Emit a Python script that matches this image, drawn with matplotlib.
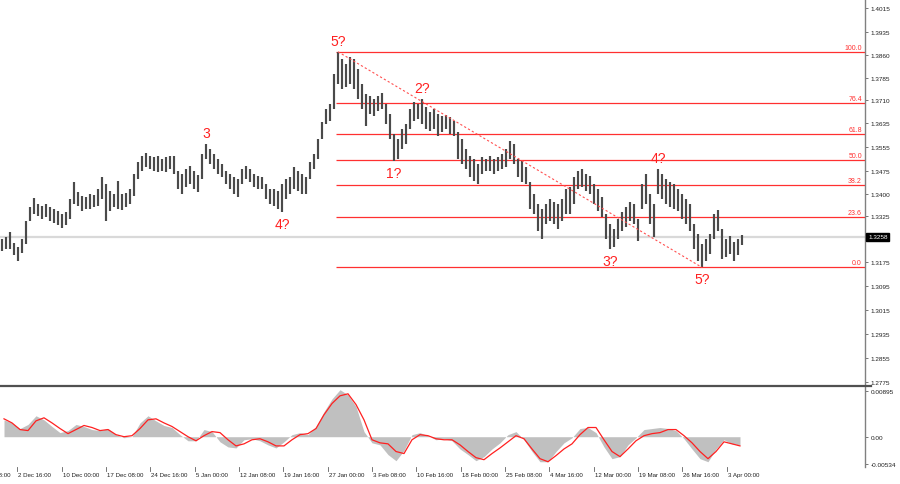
import matplotlib
matplotlib.use("Agg")
import matplotlib.pyplot as plt
from matplotlib.lines import Line2D
from matplotlib.transforms import blended_transform_factory

# ---------------- data ----------------
highs = [1.3250, 1.3257, 1.3273, 1.3237, 1.3224, 1.3250, 1.3310, 1.3356, 1.3386, 1.3366,
         1.3360, 1.3366, 1.3356, 1.3350, 1.3343, 1.3333, 1.3340, 1.3383, 1.3439, 1.3406,
         1.3393, 1.3389, 1.3399, 1.3396, 1.3416, 1.3456, 1.3433, 1.3409, 1.3399, 1.3442,
         1.3399, 1.3403, 1.3416, 1.3466, 1.3505, 1.3525, 1.3535, 1.3525, 1.3522, 1.3525,
         1.3515, 1.3522, 1.3525, 1.3525, 1.3476, 1.3466, 1.3482, 1.3492, 1.3476, 1.3462,
         1.3532, 1.3565, 1.3549, 1.3532, 1.3515, 1.3499, 1.3476, 1.3466, 1.3456, 1.3449,
         1.3482, 1.3492, 1.3482, 1.3466, 1.3459, 1.3456, 1.3433, 1.3416, 1.3416, 1.3409,
         1.3433, 1.3449, 1.3456, 1.3489, 1.3476, 1.3466, 1.3456, 1.3505, 1.3532, 1.3582,
         1.3638, 1.3681, 1.3698, 1.3797, 1.3871, 1.3847, 1.3830, 1.3854, 1.3847, 1.3814,
         1.3764, 1.3731, 1.3724, 1.3714, 1.3724, 1.3734, 1.3698, 1.3665, 1.3598, 1.3582,
         1.3615, 1.3631, 1.3681, 1.3704, 1.3698, 1.3714, 1.3688, 1.3671, 1.3681, 1.3665,
         1.3658, 1.3661, 1.3655, 1.3641, 1.3605, 1.3582, 1.3549, 1.3525, 1.3515, 1.3499,
         1.3522, 1.3515, 1.3525, 1.3515, 1.3522, 1.3532, 1.3549, 1.3575, 1.3565, 1.3515,
         1.3509, 1.3489, 1.3439, 1.3399, 1.3366, 1.3350, 1.3366, 1.3383, 1.3373, 1.3366,
         1.3383, 1.3416, 1.3423, 1.3456, 1.3476, 1.3482, 1.3466, 1.3459, 1.3433, 1.3416,
         1.3389, 1.3333, 1.3300, 1.3283, 1.3316, 1.3340, 1.3356, 1.3373, 1.3366, 1.3316,
         1.3433, 1.3466, 1.3399, 1.3366, 1.3482, 1.3466, 1.3449, 1.3439, 1.3433, 1.3416,
         1.3399, 1.3383, 1.3366, 1.3300, 1.3267, 1.3234, 1.3250, 1.3267, 1.3333, 1.3346,
         1.3283, 1.3250, 1.3260, 1.3240, 1.3250, 1.3263]
lows = [1.3210, 1.3217, 1.3217, 1.3197, 1.3177, 1.3204, 1.3234, 1.3310, 1.3333, 1.3326,
        1.3316, 1.3323, 1.3310, 1.3303, 1.3297, 1.3287, 1.3297, 1.3316, 1.3366, 1.3360,
        1.3343, 1.3350, 1.3350, 1.3356, 1.3360, 1.3383, 1.3310, 1.3343, 1.3356, 1.3350,
        1.3346, 1.3356, 1.3366, 1.3393, 1.3449, 1.3476, 1.3489, 1.3482, 1.3476, 1.3472,
        1.3476, 1.3472, 1.3482, 1.3466, 1.3416, 1.3399, 1.3423, 1.3433, 1.3416, 1.3406,
        1.3449, 1.3515, 1.3499, 1.3482, 1.3466, 1.3456, 1.3433, 1.3416, 1.3399, 1.3389,
        1.3433, 1.3449, 1.3439, 1.3423, 1.3416, 1.3416, 1.3383, 1.3366, 1.3360, 1.3350,
        1.3340, 1.3383, 1.3399, 1.3416, 1.3409, 1.3399, 1.3399, 1.3449, 1.3482, 1.3515,
        1.3582, 1.3631, 1.3641, 1.3681, 1.3764, 1.3748, 1.3754, 1.3764, 1.3748, 1.3714,
        1.3681, 1.3625, 1.3665, 1.3658, 1.3675, 1.3681, 1.3631, 1.3582, 1.3509, 1.3515,
        1.3549, 1.3565, 1.3615, 1.3641, 1.3648, 1.3631, 1.3615, 1.3608, 1.3615, 1.3592,
        1.3605, 1.3615, 1.3598, 1.3592, 1.3515, 1.3499, 1.3482, 1.3456, 1.3442, 1.3433,
        1.3466, 1.3476, 1.3476, 1.3466, 1.3476, 1.3482, 1.3489, 1.3515, 1.3499, 1.3456,
        1.3439, 1.3433, 1.3350, 1.3333, 1.3277, 1.3250, 1.3300, 1.3310, 1.3300, 1.3283,
        1.3310, 1.3333, 1.3333, 1.3366, 1.3416, 1.3423, 1.3409, 1.3399, 1.3366, 1.3343,
        1.3323, 1.3250, 1.3217, 1.3224, 1.3250, 1.3277, 1.3290, 1.3310, 1.3300, 1.3244,
        1.3350, 1.3366, 1.3300, 1.3257, 1.3399, 1.3383, 1.3366, 1.3356, 1.3350, 1.3343,
        1.3316, 1.3300, 1.3277, 1.3217, 1.3177, 1.3156, 1.3177, 1.3200, 1.3250, 1.3277,
        1.3184, 1.3190, 1.3200, 1.3177, 1.3197, 1.3230]

macd_hist = [0.0033, 0.0027, 0.0016, 0.0024, 0.0041, 0.0033, 0.0020, 0.0008, 0.0012, 0.0024,
             0.0020, 0.0014, 0.0012, 0.0016, 0.0004, -0.0002, 0.0000, 0.0027, 0.0041, 0.0031,
             0.0022, 0.0018, 0.0004, -0.0008, -0.0008, 0.0014, 0.0010, -0.0010, -0.0020, -0.0022,
             -0.0006, -0.0004, -0.0008, -0.0016, -0.0022, -0.0010, 0.0004, 0.0008, 0.0004, 0.0020,
             0.0049, 0.0074, 0.0092, 0.0082, 0.0059, 0.0010, -0.0012, -0.0016, -0.0035, -0.0047,
             -0.0027, 0.0004, 0.0008, 0.0002, -0.0006, -0.0004, -0.0008, -0.0024, -0.0035, -0.0047,
             -0.0039, -0.0024, -0.0012, 0.0004, 0.0010, -0.0006, -0.0029, -0.0049, -0.0049, -0.0029,
             -0.0012, -0.0002, 0.0016, 0.0018, 0.0008, -0.0020, -0.0043, -0.0039, -0.0016, -0.0002,
             0.0014, 0.0016, 0.0018, 0.0016, 0.0012, -0.0004, -0.0024, -0.0043, -0.0049, -0.0024,
             -0.0006, -0.0014, -0.0016]
macd_signal = [0.0035, 0.0027, 0.0014, 0.0012, 0.0031, 0.0037, 0.0027, 0.0016, 0.0006, 0.0014,
               0.0022, 0.0018, 0.0012, 0.0014, 0.0004, 0.0000, 0.0002, 0.0016, 0.0033, 0.0035,
               0.0027, 0.0020, 0.0010, 0.0000, -0.0008, 0.0002, 0.0010, 0.0008, -0.0006, -0.0018,
               -0.0014, -0.0006, -0.0004, -0.0010, -0.0018, -0.0018, -0.0006, 0.0004, 0.0006, 0.0016,
               0.0043, 0.0065, 0.0080, 0.0084, 0.0063, 0.0033, -0.0006, -0.0012, -0.0014, -0.0029,
               -0.0033, -0.0006, 0.0004, 0.0002, -0.0004, -0.0006, -0.0006, -0.0016, -0.0029, -0.0041,
               -0.0045, -0.0033, -0.0022, -0.0010, 0.0002, -0.0004, -0.0024, -0.0043, -0.0049, -0.0037,
               -0.0024, -0.0014, 0.0004, 0.0018, 0.0018, -0.0006, -0.0029, -0.0039, -0.0024, -0.0008,
               0.0002, 0.0006, 0.0008, 0.0014, 0.0014, 0.0002, -0.0012, -0.0029, -0.0043, -0.0029,
               -0.0010, -0.0014, -0.0018]

price_ticks = [1.4015, 1.3935, 1.3860, 1.3785, 1.3710, 1.3635, 1.3555, 1.3475, 1.3400,
               1.3325, 1.3175, 1.3095, 1.3015, 1.2935, 1.2855, 1.2775]
osc_ticks = [0.00895, 0.0, -0.00534]
osc_tick_labels = ["0.00895", "0.00", "-0.00534"]
date_labels = ["25 Nov 08:00", "2 Dec 16:00", "10 Dec 00:00", "17 Dec 08:00", "24 Dec 16:00",
               "5 Jan 00:00", "12 Jan 08:00", "19 Jan 16:00", "27 Jan 00:00", "3 Feb 08:00",
               "10 Feb 16:00", "18 Feb 00:00", "25 Feb 08:00", "4 Mar 16:00", "12 Mar 00:00",
               "19 Mar 08:00", "26 Mar 16:00", "3 Apr 00:00"]
fib_ratios = [0.0, 23.6, 38.2, 50.0, 61.8, 76.4, 100.0]
wave_labels = ["5?", "3", "4?", "1?", "2?", "3?", "4?", "5?"]
wave_bars = [84, 51, 70, 98, 105, 152, 164, 175]
wave_side = ["high", "high", "low", "low", "high", "low", "high", "low"]
current_price = 1.3258

# ---------------- layout ----------------
W, H = 900, 485
fig = plt.figure(figsize=(W / 100, H / 100), dpi=100)
fig.patch.set_facecolor("white")
PLOT_R = 865
ax = fig.add_axes([0, 1 - 386 / H, PLOT_R / W, 386 / H])
ax2 = fig.add_axes([0, 1 - 468 / H, PLOT_R / W, 80 / H])

n = len(highs)
xs = list(range(n))
XMIN, XMAX = -0.5, 215.75
for a in (ax, ax2):
    a.set_xlim(XMIN, XMAX)
    a.set_facecolor("white")
    for s in ("left", "top", "bottom"):
        a.spines[s].set_visible(False)
    a.spines["right"].set_color("#808080")
    a.spines["right"].set_linewidth(1.0)
    a.yaxis.tick_right()
    a.tick_params(axis="y", length=2.5, width=0.6, color="#606060", pad=1.5,
                  labelsize=4.6, labelcolor="#202020")
    a.tick_params(axis="x", bottom=False, labelbottom=False)

ax.set_ylim(1.27660, 1.40460)
ax2.set_ylim(-0.00593, 0.00973)

ax.set_yticks(price_ticks)
ax.set_yticklabels([f"{t:.4f}" for t in price_ticks], fontfamily="Liberation Sans")
ax2.set_yticks(osc_ticks)
ax2.set_yticklabels(osc_tick_labels, fontfamily="Liberation Sans")

# current price line
ax.axhline(current_price, color="#d9d9d9", lw=1.6, zorder=1)

# price bars
ax.vlines(xs, lows, highs, color="#4a4a4a", lw=1.55, zorder=3)

# fibonacci retracement
i_peak = max(range(n), key=lambda i: highs[i])
fib_hi = highs[i_peak]
i_low = min(range(i_peak, n), key=lambda i: lows[i])
fib_lo = lows[i_low]
tr_r = blended_transform_factory(ax.transAxes, ax.transData)
for r in fib_ratios:
    lvl = fib_lo + (fib_hi - fib_lo) * r / 100.0
    ax.plot([i_peak - 0.5, XMAX], [lvl, lvl], color="#ff3030", lw=0.9, zorder=2,
            solid_capstyle="butt")
    ax.text(0.9965, lvl + 0.0003, f"{r:.1f}", transform=tr_r, ha="right", va="bottom",
            fontsize=5.0, color="#ff3030", fontfamily="Liberation Sans")
ax.plot([i_peak, i_low], [fib_hi, fib_lo], color="#ff5050", lw=0.8,
        linestyle=(0, (2, 2)), zorder=4)

# wave labels
for txt, b, side in zip(wave_labels, wave_bars, wave_side):
    if side == "high":
        ax.annotate(txt, (b, highs[b]), xytext=(0, 8), textcoords="offset points",
                    ha="center", va="center", color="#ff2020", fontsize=10,
                    fontfamily="Liberation Sans", zorder=5)
    else:
        ax.annotate(txt, (b, lows[b]), xytext=(0, -8.5), textcoords="offset points",
                    ha="center", va="center", color="#ff2020", fontsize=10,
                    fontfamily="Liberation Sans", zorder=5)

# current price tag on the axis
ax.text(1.0035, current_price, f"{current_price:.4f}", transform=tr_r, ha="left", va="center",
        fontsize=4.6, color="white", fontfamily="Liberation Sans",
        bbox=dict(boxstyle="square,pad=0.25", fc="black", ec="black"), zorder=6, clip_on=False)

# oscillator
osc_x = [2 * j + 0.5 for j in range(len(macd_hist))]
ax2.fill_between(osc_x, 0, macd_hist, color="#c0c0c0", linewidth=0, zorder=2)
ax2.plot(osc_x, macd_signal, color="#ff2020", lw=0.9, zorder=3)

# separator between panels
fig.add_artist(Line2D([0, (PLOT_R + 6) / W], [1 - 386.8 / H] * 2, color="#505050", lw=1.6))

# time axis
tick0 = 3.825 - 11.083
step = 11.083
tr_t = blended_transform_factory(ax2.transData, fig.transFigure)
for k, lab in enumerate(date_labels):
    xp = tick0 + k * step
    if XMIN <= xp <= XMAX:
        fig.add_artist(Line2D([xp, xp], [1 - 468 / H, 1 - 471.5 / H], transform=tr_t,
                              color="#606060", lw=0.6))
    ax2.text(xp + 0.25, 1 - 476 / H, lab, transform=tr_t, ha="left", va="center",
             fontsize=4.4, color="#202020", fontfamily="Liberation Sans", clip_on=False)

fig.savefig("out.png", dpi=100, facecolor="white")
